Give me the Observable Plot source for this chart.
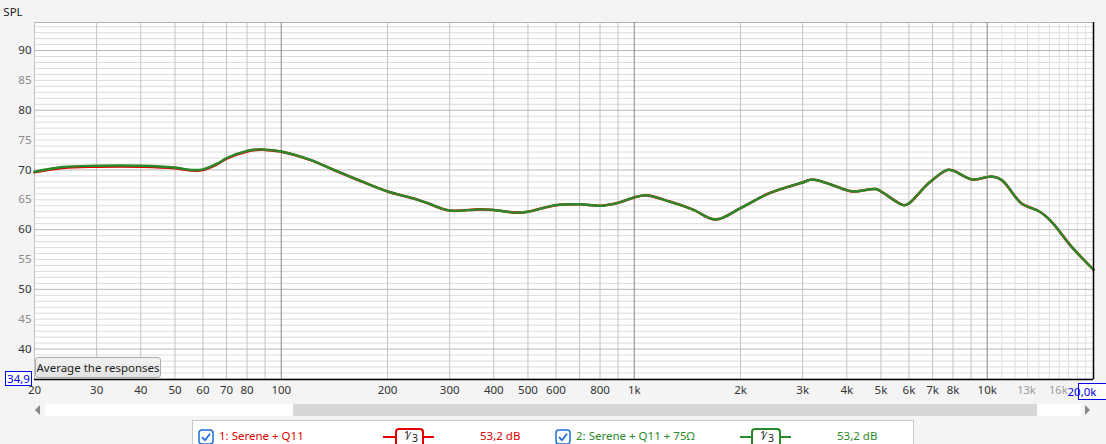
<!DOCTYPE html>
<html>
<head>
<meta charset="utf-8">
<script src="https://cdn.jsdelivr.net/npm/d3@7"></script>
<script src="https://cdn.jsdelivr.net/npm/@observablehq/plot@0.6"></script>
<style>
  html, body { margin: 0; padding: 0; background: #f4f4f4; }
  #wrap { position: relative; width: 1106px; height: 444px; overflow: hidden; background: #f4f4f4; font-family: "Noto Sans", "Open Sans", sans-serif; }
  #chart { position: absolute; left: 0; top: 0; }
  .abs { position: absolute; }
  #btn { left: 35px; top: 357px; width: 126px; height: 21px; border: 1px solid #adadad; border-radius: 3px; background: linear-gradient(#f2f2f2, #e3e3e3); font-size: 11.5px; line-height: 19px; text-align: center; color: #222; box-sizing: border-box; white-space: nowrap; overflow: hidden; }
  #track { left: 45px; top: 404px; width: 1037px; height: 12px; background: #fff; }
  #thumb { left: 293px; top: 404px; width: 744px; height: 12px; background: #d6d6d6; }
  #legend { left: 192px; top: 420px; width: 722px; height: 30px; background: #fff; border: 1px solid #c8c8c8; box-sizing: border-box; }
  .lt { position: absolute; top: 428px; font-size: 11.5px; line-height: 16px; white-space: nowrap; }
  .sym { position: absolute; top: 428px; height: 16px; box-sizing: border-box; border: 2px solid; border-bottom: none; border-radius: 4px 4px 0 0; background: #fff; text-align: center; color: #222; overflow: hidden; }
  .sym span { position: absolute; font-size: 10.5px; line-height: 10px; }
  .symline { position: absolute; top: 436px; height: 2px; }
</style>
</head>
<body>
<div id="wrap">
  <div id="chart"></div>
</div>
<script>
// ---- data ----
const freqs = [20, 24, 30, 40, 50, 56, 60, 66, 70, 80, 87, 90, 100, 121, 141, 167, 200, 236, 258, 300, 364, 400, 462, 500, 600, 700, 800, 900, 1000, 1084, 1260, 1462, 1702, 2000, 2412, 3000, 3200, 4060, 4240, 4830, 5000, 5800, 6000, 6830, 7700, 8000, 9070, 10300, 11000, 12500, 14100, 15200, 17300, 20000];
const splGreen = [69.7, 70.5, 70.7, 70.7, 70.4, 70.0, 70.1, 71.1, 72.0, 73.2, 73.45, 73.4, 73.1, 71.7, 70.0, 68.2, 66.4, 65.25, 64.5, 63.2, 63.4, 63.3, 62.85, 63.0, 64.1, 64.25, 64.0, 64.5, 65.4, 65.75, 64.7, 63.4, 61.7, 63.6, 66.1, 67.9, 68.4, 66.5, 66.4, 66.8, 66.4, 64.1, 64.4, 67.8, 70.0, 69.9, 68.4, 68.9, 68.3, 64.4, 63.0, 61.35, 57.2, 53.3];
const splRed = [69.6, 70.35, 70.55, 70.55, 70.3, 69.9, 70.0, 71.0, 71.9, 73.1, 73.4, 73.35, 73.05, 71.65, 70.0, 68.2, 66.4, 65.25, 64.5, 63.2, 63.4, 63.3, 62.85, 63.0, 64.1, 64.25, 64.0, 64.5, 65.4, 65.75, 64.7, 63.4, 61.7, 63.6, 66.1, 67.9, 68.4, 66.5, 66.4, 66.8, 66.4, 64.1, 64.4, 67.8, 70.0, 69.9, 68.4, 68.9, 68.3, 64.4, 63.0, 61.35, 57.2, 53.3];

const seriesNames = ["1: Serene + Q11", "2: Serene + Q11 + 75\u03A9"];
const seriesColors = ["#e00000", "#2a8a2a"];
const legendLevels = ["53,2 dB", "53,2 dB"];

const xDomain = [20, 20000];
const yDomain = [34.9, 94.7];
const xTicksDark = [20, 30, 40, 50, 60, 70, 80, 100, 200, 300, 400, 500, 600, 800, 1000, 2000, 3000, 4000, 5000, 6000, 7000, 8000, 10000];
const xTicksGray = [13000, 16000];
const yTicksDark = [40, 50, 60, 70, 80, 90];
const yTicksGray = [45, 55, 65, 75, 85];
const gridXMid = [20, 30, 40, 50, 60, 70, 80, 90, 200, 300, 400, 500, 600, 700, 800, 900, 2000, 3000, 4000, 5000, 6000, 7000, 8000, 9000];
const gridXDecade = [100, 1000, 10000];
const gridXHigh = [11000, 12000, 13000, 14000, 15000, 16000, 17000, 18000, 19000];
const gridYMinor = d3.range(35, 95).filter(v => v % 10 !== 0);
const gridYMajor = [40, 50, 60, 70, 80, 90];

const fmtHz = f => f >= 1000 ? (f / 1000) + "k" : String(f);

const green = freqs.map((f, i) => ({f, v: splGreen[i]}));
const red = freqs.map((f, i) => ({f, v: splRed[i]}));

const FS = 11.5;
const plot = Plot.plot({
  width: 1106,
  height: 400,
  marginLeft: 34,
  marginRight: 13,
  marginTop: 22,
  marginBottom: 21,
  x: {type: "log", domain: xDomain, axis: null},
  y: {domain: yDomain, axis: null},
  style: {background: "transparent", fontFamily: "'Noto Sans', 'Open Sans', sans-serif", fontSize: FS + "px", overflow: "visible"},
  marks: [
    Plot.frame({fill: "white", stroke: "#b4b4b4"}),
    Plot.ruleY(gridYMinor, {stroke: "#dcdcdc", strokeWidth: 1}),
    Plot.ruleX(gridXHigh, {stroke: "#dedede", strokeWidth: 1}),
    Plot.ruleX(gridXMid, {stroke: "#c2c2c2", strokeWidth: 1}),
    Plot.ruleY(gridYMajor, {stroke: "#b8b8b8", strokeWidth: 1}),
    Plot.ruleX(gridXDecade, {stroke: "#878787", strokeWidth: 1}),
    Plot.line(red, {x: "f", y: "v", stroke: seriesColors[0], strokeWidth: 2.6, curve: "catmull-rom"}),
    Plot.line(green, {x: "f", y: "v", stroke: seriesColors[1], strokeWidth: 2.4, curve: "catmull-rom"}),
    Plot.ruleY([yDomain[0]], {stroke: "#000", strokeWidth: 1.5}),
    Plot.ruleX([xDomain[1]], {stroke: "#000", strokeWidth: 1.5}),
    Plot.text(yTicksDark, {y: d => d, frameAnchor: "left", dx: -3, textAnchor: "end", fill: "#333", fontSize: FS, text: d => String(d)}),
    Plot.text(yTicksGray, {y: d => d, frameAnchor: "left", dx: -3, textAnchor: "end", fill: "#8a8a8a", fontSize: FS, text: d => String(d)}),
    Plot.text(xTicksDark, {x: d => d, frameAnchor: "bottom", dy: 14, fill: "#333", fontSize: FS, text: fmtHz}),
    Plot.text(xTicksGray, {x: d => d, frameAnchor: "bottom", dy: 14, dx: -1, fill: "#999", fontSize: 11, text: fmtHz})
  ]
});
document.getElementById("chart").appendChild(plot);

// boxed readouts and SPL label, positioned through the scales
const sx = plot.scale("x"), sy = plot.scale("y");
const svg = d3.select(plot);
const yBottom = sy.apply(yDomain[0]);
const xRight = sx.apply(xDomain[1]);
svg.append("text").attr("x", 13).attr("y", 16).attr("font-size", FS).attr("fill", "#222").text("SPL");
const g1 = svg.append("g");
g1.append("rect").attr("x", 5.5).attr("y", yBottom - 7.5).attr("width", 26).attr("height", 14).attr("fill", "#fff").attr("stroke", "#0000ee");
g1.append("text").attr("x", 18.5).attr("y", yBottom + 4).attr("text-anchor", "middle").attr("font-size", FS).attr("fill", "#0000ee").text(yDomain[0].toFixed(1).replace(".", ","));
const g2 = svg.append("g");
g2.append("rect").attr("x", xRight - 14.5).attr("y", yBottom + 4.5).attr("width", 40).attr("height", 16).attr("fill", "#fff").attr("stroke", "#0000ee");
g2.append("text").attr("x", xRight - 11).attr("y", yBottom + 17).attr("font-size", FS).attr("fill", "#0000ee").text((xDomain[1] / 1000).toFixed(1).replace(".", ",") + "k");

// HTML UI below/over the chart
const wrap = document.getElementById("wrap");
function el(cls, id, style, html) {
  const d = document.createElement("div");
  d.className = cls; if (id) d.id = id;
  Object.assign(d.style, style || {});
  if (html != null) d.innerHTML = html;
  wrap.appendChild(d); return d;
}
el("abs", "btn", {}, "Average the responses");
el("abs", "track", {});
el("abs", "thumb", {});
el("abs", null, {left: "35px", top: "405px", width: "0", height: "0", borderTop: "5px solid transparent", borderBottom: "5px solid transparent", borderRight: "5px solid #888"});
el("abs", null, {left: "1085px", top: "405px", width: "0", height: "0", borderTop: "5px solid transparent", borderBottom: "5px solid transparent", borderLeft: "5px solid #888"});
el("abs", "legend", {});

const checkSvg = '<svg width="16" height="16" viewBox="0 0 16 16"><rect x="1" y="1" width="14" height="14" rx="3" fill="#fff" stroke="#1a6fd8" stroke-width="1.5"/><path d="M4 8.2 L7 11.2 L12 4.8" fill="none" stroke="#1a6fd8" stroke-width="1.8"/></svg>';
const legendX = [
  {cb: 198, name: 219, l1: 383, box: 395, l2: 424, lvl: 480},
  {cb: 555, name: 576, l1: 740, box: 751, l2: 781, lvl: 837}
];
seriesNames.forEach((n, i) => {
  const p = legendX[i], c = seriesColors[i];
  el("abs", null, {left: p.cb + "px", top: "428px"}, checkSvg);
  el("lt", null, {left: p.name + "px", color: c}, n);
  el("symline", null, {left: p.l1 + "px", width: (p.l2 + 10 - p.l1) + "px", background: c});
  el("sym", null, {left: p.box + "px", width: (p.l2 - p.box) + "px", borderColor: c},
     '<span style="left:7px;top:0px">1</span><span style="left:11px;top:1px">\u2044</span><span style="left:15px;top:3px">3</span>');
  el("lt", null, {left: p.lvl + "px", color: c}, legendLevels[i]);
});
</script>
</body>
</html>
